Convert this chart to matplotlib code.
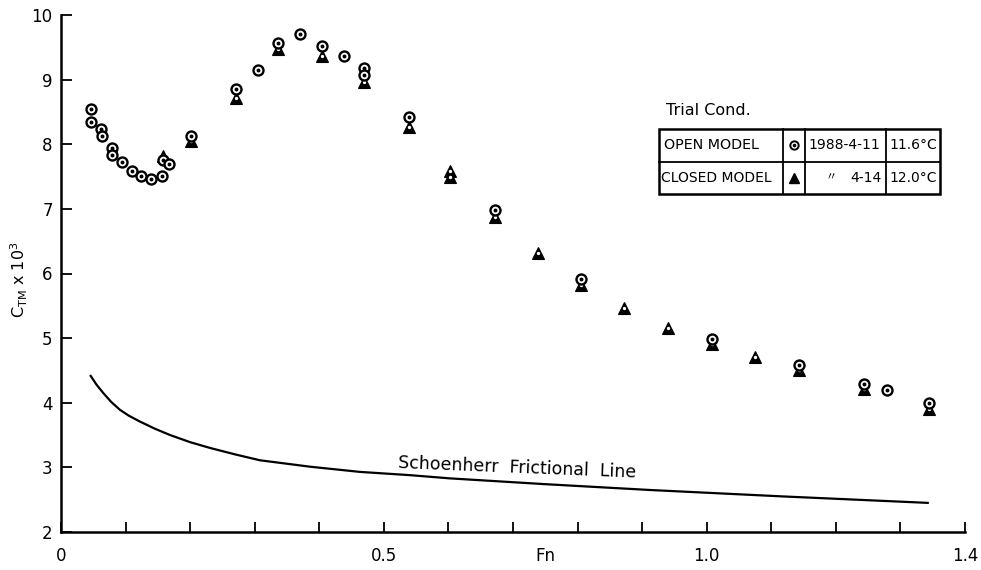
import matplotlib
matplotlib.use('Agg')
import matplotlib.pyplot as plt
from matplotlib.lines import Line2D
from matplotlib.patches import Rectangle

# open model, 1988-4-11 (circles)
fn_open = [0.046, 0.046, 0.0625, 0.0635, 0.0795, 0.079, 0.094, 0.110, 0.124, 0.139,
           0.156, 0.158, 0.168, 0.202, 0.2705, 0.305, 0.3356, 0.3697, 0.4047, 0.4378,
           0.470, 0.470, 0.539, 0.672, 0.806, 1.008, 1.143, 1.244, 1.279, 1.345]
ct_open = [8.54, 8.34, 8.24, 8.13, 7.94, 7.84, 7.72, 7.58, 7.51, 7.47,
           7.51, 7.76, 7.70, 8.13, 8.85, 9.15, 9.57, 9.71, 9.52, 9.37,
           9.18, 9.07, 8.42, 6.98, 5.92, 4.98, 4.58, 4.29, 4.19, 3.99]

# closed model, 4-14 (triangles)
fn_closed = [0.158, 0.202, 0.2705, 0.3356, 0.4047, 0.470, 0.539, 0.602, 0.602, 0.672,
             0.738, 0.806, 0.872, 0.94, 1.008, 1.075, 1.143, 1.244, 1.345]
ct_closed = [7.82, 8.05, 8.72, 9.47, 9.36, 8.97, 8.27, 7.58, 7.50, 6.87,
             6.32, 5.82, 5.46, 5.16, 4.91, 4.71, 4.50, 4.22, 3.91]

# Schoenherr frictional line
fn_sch = [0.045, 0.055, 0.0655, 0.078, 0.0914, 0.105, 0.122, 0.145, 0.169, 0.20, 0.231,
          0.27, 0.308, 0.386, 0.463, 0.540, 0.602, 0.75, 0.912, 1.119, 1.344]
ct_sch = [4.43, 4.28, 4.15, 4.01, 3.89, 3.80, 3.71, 3.60, 3.50, 3.39, 3.30,
          3.20, 3.11, 3.01, 2.93, 2.88, 2.83, 2.74, 2.65, 2.55, 2.45]

xtick_pos = [0, 0.5, 1.0, 1.4]
xtick_lab = ['0', '0.5', '1.0', '1.4']
ytick_pos = [2, 3, 4, 5, 6, 7, 8, 9, 10]

table_rows = [['OPEN MODEL', '1988-4-11', '11.6°C'],
              ['CLOSED MODEL', '4-14', '12.0°C']]

W, H = 981, 570
fig = plt.figure(figsize=(W / 100, H / 100), dpi=100)
ax = fig.add_axes([61 / W, 38 / H, 904 / W, 517 / H])

ax.plot(fn_sch, ct_sch, color='black', lw=1.6, solid_capstyle='butt', solid_joinstyle='round')

# triangles first, circles on top
ax.plot(fn_closed, ct_closed, ls='none', marker='^', ms=8.5, mfc='black', mec='black', mew=0.8)
ax.plot(fn_closed, ct_closed, ls='none', marker='o', ms=1.4, mfc='white', mec='white')
ax.plot(fn_open, ct_open, ls='none', marker='o', ms=7.2, mfc='white', mec='black', mew=1.7)
ax.plot(fn_open, ct_open, ls='none', marker='o', ms=1.8, mfc='black', mec='black')

ax.set_xlim(0, 1.4)
ax.set_ylim(2, 10)
for s in ['top', 'right']:
    ax.spines[s].set_visible(False)
for s in ['left', 'bottom']:
    ax.spines[s].set_linewidth(1.8)

ax.set_xticks([i / 10 for i in range(15)])
ax.set_xticklabels(['' for i in range(15)])
ax.set_yticks(ytick_pos)
ax.set_yticklabels([str(v) for v in ytick_pos], fontsize=12)
ax.tick_params(axis='x', direction='in', length=7.5, width=1.3)
ax.tick_params(axis='y', direction='in', length=8, width=1.3, pad=6)

for p, l in zip(xtick_pos, xtick_lab):
    ax.text(p, -0.047, l, transform=ax.get_xaxis_transform(), ha='center', va='center',
            fontsize=12)
ax.text(0.75, -0.047, 'Fn', transform=ax.get_xaxis_transform(), ha='center', va='center',
        fontsize=12)

fig.text(19 / W, 1 - 280 / H, r'C$_{\mathrm{TM}}$ x 10$^{3}$', rotation=90,
         ha='center', va='center', fontsize=11.5)

ax.text(0.522, 2.93, 'Schoenherr  Frictional  Line', rotation=-2.3, rotation_mode='anchor',
        ha='left', va='bottom', fontsize=12.5)

# legend table (figure pixel coordinates)
def fx(px):
    return px / W

def fy(py):
    return 1 - py / H

left, right, top, mid, bot = 659, 940, 129, 161.5, 193.5
cols = [782.5, 805, 886]
fig.add_artist(Rectangle((fx(left), fy(bot)), fx(right) - fx(left), fy(top) - fy(bot),
                         transform=fig.transFigure, fill=False, ec='black', lw=1.8))
fig.add_artist(Line2D([fx(left), fx(right)], [fy(mid), fy(mid)], transform=fig.transFigure,
                      color='black', lw=1.3))
for c in cols:
    fig.add_artist(Line2D([fx(c), fx(c)], [fy(top), fy(bot)], transform=fig.transFigure,
                          color='black', lw=1.3))

fig.text(fx(666), fy(111), 'Trial Cond.', ha='left', va='center', fontsize=11.5)
row_y = [(top + mid) / 2, (mid + bot) / 2]
fig.text(fx(664), fy(row_y[0]), table_rows[0][0], ha='left', va='center', fontsize=10.3)
fig.text(fx(661), fy(row_y[1]), table_rows[1][0], ha='left', va='center', fontsize=10)
fig.text(fx(844), fy(row_y[0]), table_rows[0][1], ha='center', va='center', fontsize=10)
fig.text(fx(882), fy(row_y[1]), table_rows[1][1], ha='right', va='center', fontsize=10)
fig.text(fx(831), fy(row_y[1]), '〃', ha='center', va='center', fontsize=8,
         family=['Noto Sans CJK JP', 'DejaVu Sans'])
for r in range(2):
    fig.text(fx(913), fy(row_y[r]), table_rows[r][2], ha='center', va='center', fontsize=10)

fig.add_artist(Line2D([fx(794)], [fy(row_y[0])], transform=fig.transFigure, ls='none',
                      marker='o', ms=6, mfc='white', mec='black', mew=1.4))
fig.add_artist(Line2D([fx(794)], [fy(row_y[0])], transform=fig.transFigure, ls='none',
                      marker='o', ms=1.6, mfc='black', mec='black'))
fig.add_artist(Line2D([fx(794)], [fy(row_y[1])], transform=fig.transFigure, ls='none',
                      marker='^', ms=7, mfc='black', mec='black'))

fig.savefig('out.png', dpi=100)
